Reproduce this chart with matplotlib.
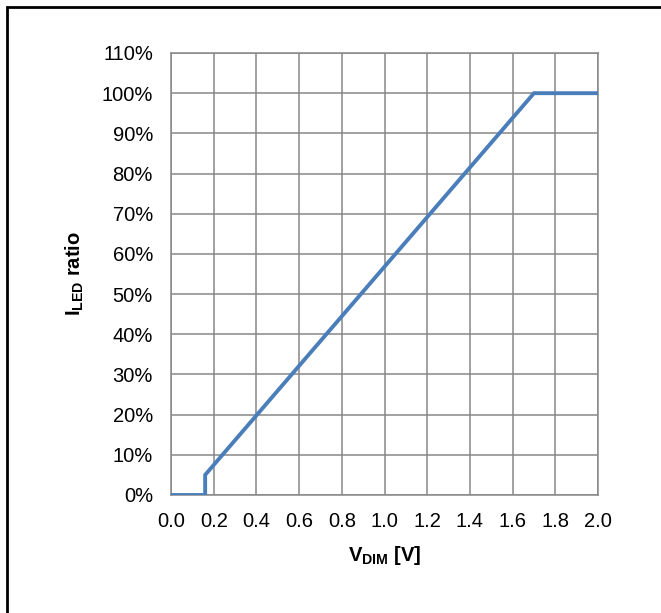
import numpy as np
import matplotlib.pyplot as plt
from matplotlib.patches import Rectangle
from matplotlib.ticker import FuncFormatter

plt.rcParams['font.family'] = ['Liberation Sans', 'DejaVu Sans']
plt.rcParams['mathtext.fontset'] = 'custom'
plt.rcParams['mathtext.rm'] = 'Liberation Sans'
plt.rcParams['mathtext.bf'] = 'Liberation Sans:bold'

# dimming voltage [V] vs LED current ratio [%]
v_dim = [0.0, 0.16, 0.16, 1.7, 2.0]
i_ratio = [0, 0, 5, 100, 100]

x_ticks = np.arange(0, 2.01, 0.2)
y_ticks = np.arange(0, 111, 10)

W, H = 661, 613
fig = plt.figure(figsize=(W / 100, H / 100), dpi=100)
ax = fig.add_axes([171 / W, 1 - 495 / H, (598 - 171) / W, (495 - 53) / H])

ax.plot(v_dim, i_ratio, color='#4A7EBB', linewidth=2.8, solid_joinstyle='miter', zorder=3)

ax.set_xlim(0, 2.0)
ax.set_ylim(0, 110)
ax.set_xticks(x_ticks)
ax.set_yticks(y_ticks)
ax.xaxis.set_major_formatter(FuncFormatter(lambda v, p: f'{v:.1f}'))
ax.yaxis.set_major_formatter(FuncFormatter(lambda v, p: f'{v:.0f}%'))
ax.tick_params(length=0, labelsize=14.5)
ax.tick_params(axis='y', pad=13)
ax.tick_params(axis='x', pad=12)

ax.grid(True, color='#878787', linewidth=1.1)
for s in ax.spines.values():
    s.set_color('#878787')
    s.set_linewidth(1.1)

ax.set_xlabel(r'$\mathbf{V_{DIM}}$ [V]', fontsize=14.5, fontweight='bold')
ax.set_ylabel(r'$\mathbf{I_{LED}}$ ratio', fontsize=14.5, fontweight='bold')
ax.xaxis.set_label_coords(0.5, -0.11)
ax.yaxis.set_label_coords(-0.2, 0.5)

# frame around the whole chart
fig.patches.append(Rectangle((7 / W, -0.05), 1.2, 1 - 7 / H + 0.05,
                             transform=fig.transFigure, fill=False,
                             edgecolor='black', linewidth=2))

fig.savefig('out.png', dpi=100)
